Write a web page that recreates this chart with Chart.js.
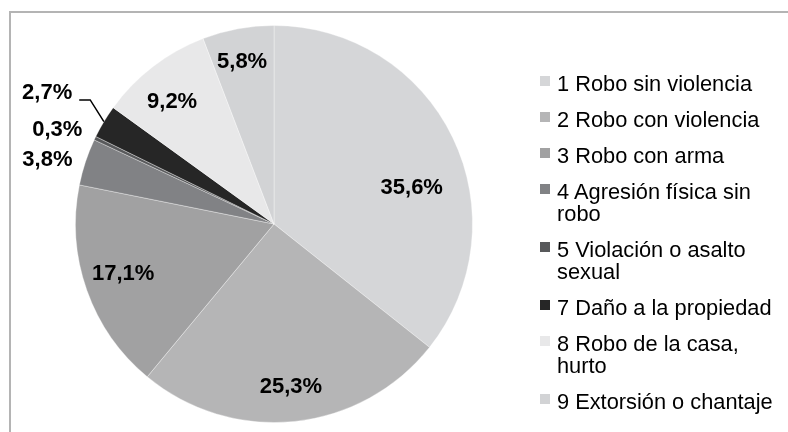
<!DOCTYPE html>
<html>
<head>
<meta charset="utf-8">
<script src="https://cdn.jsdelivr.net/npm/chart.js@4"></script>
<style>
    html, body { margin: 0; padding: 0; background: #fff; }
    #wrap { position: relative; width: 788px; height: 432px; overflow: hidden; }
    #frame { position: absolute; left: 9px; top: 11px; width: 800px; height: 440px;
             border-left: 2px solid #b4b4b4; border-top: 2px solid #b4b4b4; }
    #pieChart { position: absolute; left: 0; top: 0; }
    #legend { position: absolute; left: 540px; top: 72.6px; font-family: "Liberation Sans", Arial, sans-serif;
              font-size: 21.8px; line-height: 22px; color: #000; }
    .item { display: flex; align-items: flex-start; margin-bottom: 14px; }
    .box { width: 10px; height: 10px; margin-top: 3px; margin-right: 7px; flex: none; }
    .txt { width: 226px; }
</style>
</head>
<body>
<div id="wrap">
    <div id="frame"></div>
    <canvas id="pieChart" width="788" height="432"></canvas>
    <div id="legend"></div>
</div>
<script>
const categories = ["1 Robo sin violencia", "2 Robo con violencia", "3 Robo con arma",
    "4 Agresión física sin robo", "5 Violación o asalto sexual", "7 Daño a la propiedad",
    "8 Robo de la casa, hurto", "9 Extorsión o chantaje"];
const values = [35.6, 25.3, 17.1, 3.8, 0.3, 2.7, 9.2, 5.8];
const colors = ["#d5d6d8", "#b5b5b6", "#a1a1a2", "#818285", "#58595b", "#262626", "#e8e8e9", "#d2d3d5"];

// label placement: distance as share of the radius, turn in degrees from slice middle
const labelDist = [0.717, 0.824, 0.80, 1.186, 1.19, 1.32, 0.80, 0.83];
const labelTurn = [11.2, 0, 1.3, -2.5, -2.2, -1, -2.4, -0.7];
const leader = [false, false, false, false, false, true, false, false];

const sliceLabels = {
    id: "sliceLabels",
    afterDatasetsDraw(chart) {
        const ctx = chart.ctx;
        const arcs = chart.getDatasetMeta(0).data;
        ctx.save();
        ctx.font = 'bold 22px "Liberation Sans", Arial, sans-serif';
        ctx.fillStyle = "#000";
        ctx.textAlign = "center";
        ctx.textBaseline = "middle";
        arcs.forEach(function (arc, i) {
            const p = arc.getProps(["x", "y", "startAngle", "endAngle", "outerRadius"], true);
            const mid = (p.startAngle + p.endAngle) / 2;
            const a = mid + labelTurn[i] * Math.PI / 180;
            const d = p.outerRadius * labelDist[i];
            const tx = p.x + Math.cos(a) * d;
            const ty = p.y + Math.sin(a) * d;
            const text = values[i].toFixed(1).replace(".", ",") + "%";
            ctx.fillText(text, tx, ty);
            if (leader[i]) {
                const w = ctx.measureText(text).width;
                const x0 = tx + w / 2 + 7;
                const y0 = ty + 7;
                ctx.beginPath();
                ctx.strokeStyle = "#000";
                ctx.lineWidth = 1.5;
                ctx.moveTo(x0, y0);
                ctx.lineTo(x0 + 11, y0);
                ctx.lineTo(p.x + Math.cos(mid) * p.outerRadius, p.y + Math.sin(mid) * p.outerRadius);
                ctx.stroke();
            }
        });
        ctx.restore();
    }
};

const chart = new Chart(document.getElementById("pieChart").getContext("2d"), {
    type: "pie",
    data: {
        labels: categories,
        datasets: [{
            data: values,
            backgroundColor: colors,
            borderColor: "rgba(255,255,255,0.35)",
            borderWidth: 1
        }]
    },
    options: {
        responsive: false,
        animation: false,
        layout: { padding: { left: 75, right: 315, top: 25, bottom: 9 } },
        plugins: {
            legend: { display: false },
            tooltip: { enabled: false }
        }
    },
    plugins: [sliceLabels]
});

// legend built from the same arrays
const legend = document.getElementById("legend");
categories.forEach(function (name, i) {
    const item = document.createElement("div");
    item.className = "item";
    const box = document.createElement("div");
    box.className = "box";
    box.style.background = colors[i];
    const txt = document.createElement("div");
    txt.className = "txt";
    txt.textContent = name;
    item.appendChild(box);
    item.appendChild(txt);
    legend.appendChild(item);
});
</script>
</body>
</html>
